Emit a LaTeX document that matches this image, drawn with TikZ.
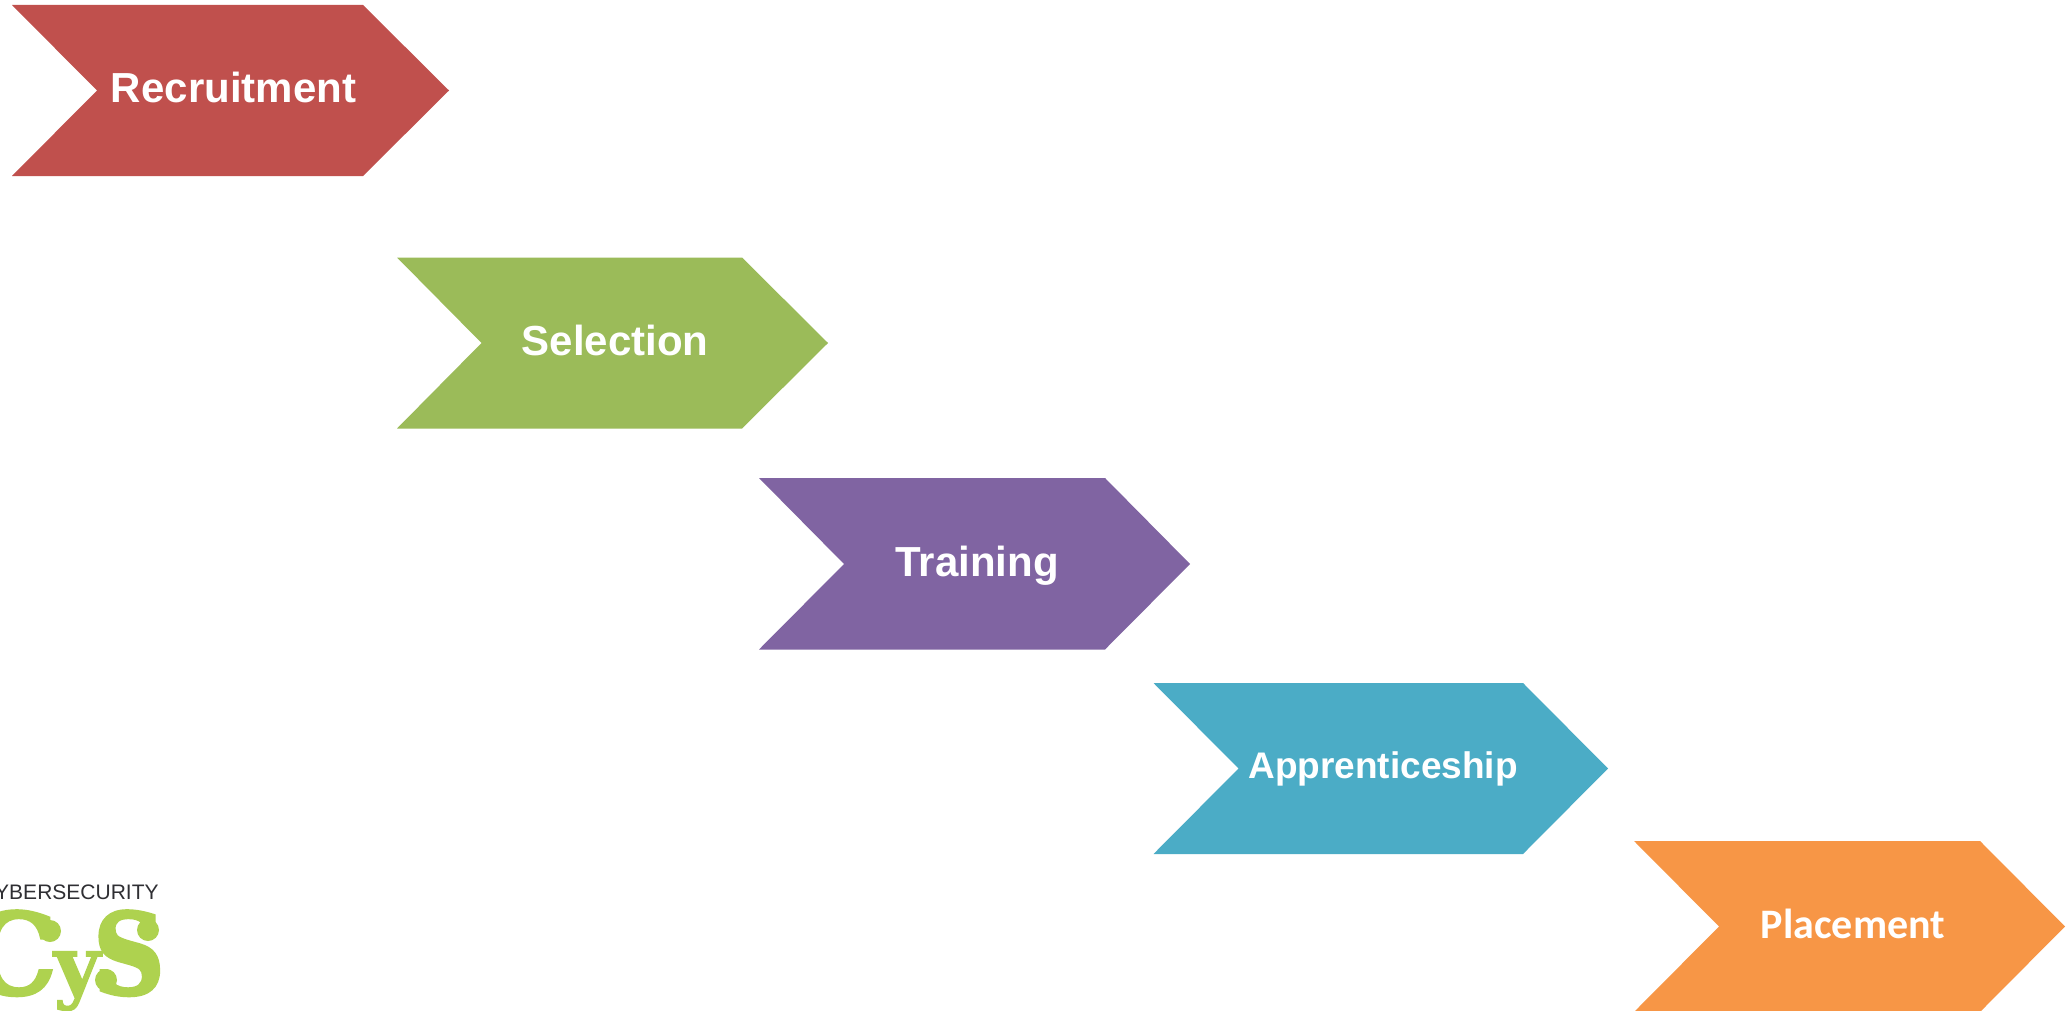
\documentclass[tikz,border=0pt]{standalone}
\usepackage{fontspec}
\setmainfont{Liberation Sans}
\newfontfamily\calibri{Carlito}
\newfontfamily\logoserif[FakeBold=3]{DejaVu Serif Bold}
\newfontfamily\logoserifthin[FakeBold=1.5]{DejaVu Serif Bold}
\newfontfamily\logosans{Liberation Sans}
\definecolor{cred}{HTML}{C0504D}
\definecolor{cgreen}{HTML}{9BBB59}
\definecolor{cpurple}{HTML}{8064A2}
\definecolor{cblue}{HTML}{4BACC6}
\definecolor{corange}{HTML}{F79646}
\definecolor{logogreen}{HTML}{AED24F}
\definecolor{logodark}{HTML}{2F2F33}
\tikzset{
  steplabel/.style={anchor=base,text=white,font=\fontsize{21}{25}\selectfont\bfseries,inner sep=0pt},
  logoletter/.style={anchor=base,text=logogreen,inner sep=0pt},
  logoball/.style={fill=logogreen}
}
\begin{document}
\begin{tikzpicture}[x=0.5pt,y=-0.5pt]
\useasboundingbox (0,0) rectangle (2072,1011);
\fill[white] (0,0) rectangle (2072,1011);
\clip (0,0) rectangle (2072,1011);
% chevrons
\fill[cred] (12,5) -- (363,5) -- (449,90.5) -- (363,176) -- (12,176) -- (97,90.5) -- cycle;
\fill[cgreen] (397,257.5) -- (742,257.5) -- (828,343) -- (742,428.5) -- (397,428.5) -- (481.5,343) -- cycle;
\fill[cpurple] (759,478) -- (1105,478) -- (1190,564) -- (1105,649.5) -- (759,649.5) -- (844,564) -- cycle;
\fill[cblue] (1153.5,683) -- (1523,683) -- (1608,768.5) -- (1523,854) -- (1153.5,854) -- (1238.5,768.5) -- cycle;
\fill[corange] (1634,841) -- (1980,841) -- (2065,926.5) -- (1980,1012) -- (1634,1012) -- (1719,926.5) -- cycle;
% labels
\node[steplabel] (recruitment) at (233.5,103) {Recruitment};
\node[steplabel] (selection) at (615,355) {Selection};
\node[steplabel] (training) at (977,576) {Training};
\node[steplabel,font=\fontsize{18.5}{22}\selectfont\bfseries] (apprenticeship) at (1383,778.5) {Apprenticeship};
\node[steplabel,font=\fontsize{21}{25}\selectfont\bfseries\calibri] (placement) at (1853,938) {Placement};
% logo
\node[anchor=base east,inner sep=0pt,text=logodark,font=\fontsize{10.5}{13}\selectfont\logosans] (logotext) at (159,899) {YBERSECURITY};
\node[logoletter,font=\fontsize{56}{65}\selectfont\logoserif] (logoc) at (12,994) {C};
\node[logoletter,font=\fontsize{56}{65}\selectfont\logoserif,xscale=0.88] (logos) at (129,994) {S};
\node[logoletter,font=\fontsize{40}{50}\selectfont\logoserifthin] (logoy) at (77,993) {y};
\fill[logoball] (50,931) circle (11);
\fill[logoball] (148,930) circle (11);
\fill[logoball] (106,980) circle (11);
\end{tikzpicture}
\end{document}
